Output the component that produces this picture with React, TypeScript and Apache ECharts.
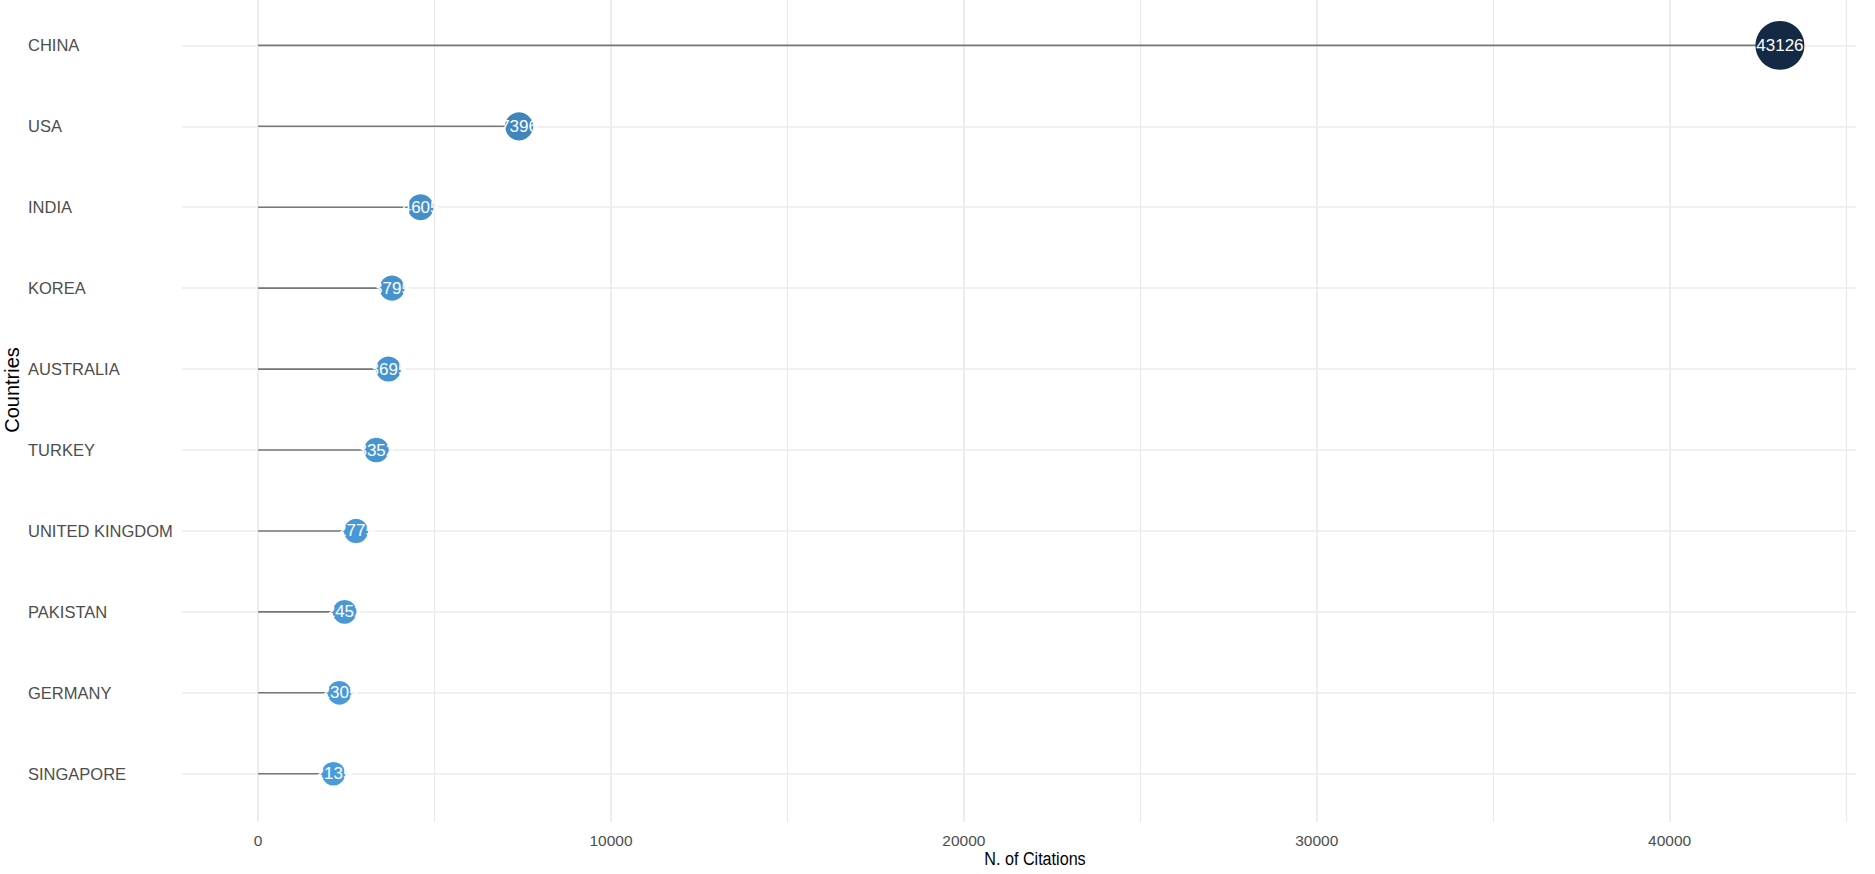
import React, { useEffect, useRef } from "react";
import * as echarts from "echarts";

const countries = [
  "CHINA",
  "USA",
  "INDIA",
  "KOREA",
  "AUSTRALIA",
  "TURKEY",
  "UNITED KINGDOM",
  "PAKISTAN",
  "GERMANY",
  "SINGAPORE",
];
const citations = [43126, 7396, 4605, 3795, 3695, 3352, 2775, 2452, 2305, 2135];
const xTickLabels = [0, 10000, 20000, 30000, 40000];
const xGridValues = [0, 5000, 10000, 15000, 20000, 25000, 30000, 35000, 40000, 45000];

const SANS = "'Liberation Sans', Arial, sans-serif";

function hexToRgb(h: string) {
  const n = parseInt(h.slice(1), 16);
  return [(n >> 16) & 255, (n >> 8) & 255, n & 255];
}
function lerpColor(a: string, b: string, t: number) {
  const A = hexToRgb(a);
  const B = hexToRgb(b);
  const c = A.map((v, i) => Math.round(v + (B[i] - v) * t));
  return `rgb(${c[0]},${c[1]},${c[2]})`;
}

export default function App() {
  const ref = useRef<HTMLDivElement>(null);

  useEffect(() => {
    if (!ref.current) return;
    const chart = echarts.init(ref.current, undefined, { renderer: "svg" });
    const vMin = Math.min(...citations);
    const vMax = Math.max(...citations);
    const points = citations.map((v, i) => [v, i]);

    chart.setOption({
      animation: false,
      backgroundColor: "#ffffff",
      grid: { left: 182, right: 19, top: 0, bottom: 52, containLabel: false },
      xAxis: {
        type: "value",
        min: -2156,
        max: 45282,
        axisLine: { show: false },
        axisTick: { show: false },
        splitLine: { show: false },
        axisLabel: {
          customValues: xTickLabels,
          formatter: (v: number) => String(v),
          color: "#4d4d4d",
          fontSize: 15.5,
          fontFamily: SANS,
          margin: 10,
        },
      },
      yAxis: {
        type: "value",
        inverse: true,
        min: -0.561,
        max: 9.597,
        axisLine: { show: false },
        axisTick: { show: false },
        splitLine: { show: false },
        axisLabel: {
          customValues: countries.map((_, i) => i),
          formatter: (v: number) => countries[Math.round(v)] ?? "",
          align: "left",
          margin: 154,
          color: "#4d4d4d",
          fontSize: 16.5,
          fontFamily: SANS,
        },
      },
      graphic: [
        {
          type: "text",
          x: 1035,
          y: 859,
          scaleX: 0.85,
          style: {
            text: "N. of Citations",
            fill: "#000000",
            fontSize: 19,
            fontFamily: SANS,
            align: "center",
            verticalAlign: "middle",
          },
        },
        {
          type: "text",
          x: 12,
          y: 390,
          rotation: Math.PI / 2,
          style: {
            text: "Countries",
            fill: "#000000",
            fontSize: 20,
            fontFamily: SANS,
            align: "center",
            verticalAlign: "middle",
          },
        },
      ],
      series: [
        {
          type: "custom",
          silent: true,
          z: 1,
          data: points,
          encode: { x: 0, y: 1 },
          renderItem: (params: any, api: any) => {
            const v = api.value(0);
            const y = api.value(1);
            const s = api.coord([0, y]);
            const e = api.coord([v, y]);
            return {
              type: "line",
              shape: { x1: s[0], y1: s[1], x2: e[0], y2: e[1] },
              style: { stroke: "#777777", lineWidth: 1.6 },
            };
          },
          markLine: {
            silent: true,
            symbol: ["none", "none"],
            label: { show: false },
            lineStyle: { color: "#ebebeb", width: 1.6, type: "solid" },
            data: [
              ...xGridValues.map((x) => ({
                xAxis: x,
                lineStyle: { width: x % 10000 === 0 ? 1.6 : 1.2, color: "#e9e9e9", type: "solid" },
              })),
              ...countries.map((_, i) => ({ yAxis: i })),
            ],
            z: 0,
          },
        },
        {
          type: "scatter",
          z: 3,
          data: points,
          symbol: "circle",
          symbolSize: (val: number[]) => Math.sqrt(460 + 0.0448 * val[0]),
          itemStyle: {
            opacity: 1,
            color: (p: any) => {
              const t = (p.value[0] - vMin) / (vMax - vMin);
              return lerpColor("#4A9BDB", "#142A44", Math.pow(t, 0.8));
            },
          },
          label: {
            show: true,
            position: "inside",
            formatter: (p: any) => String(p.value[0]),
            color: "#ffffff",
            fontSize: 17,
            fontFamily: SANS,
          },
        },
      ],
    });

    return () => chart.dispose();
  }, []);

  return (
    <div
      ref={ref}
      style={{ position: "fixed", left: 0, top: 0, width: 1875, height: 874, background: "#fff" }}
    />
  );
}
